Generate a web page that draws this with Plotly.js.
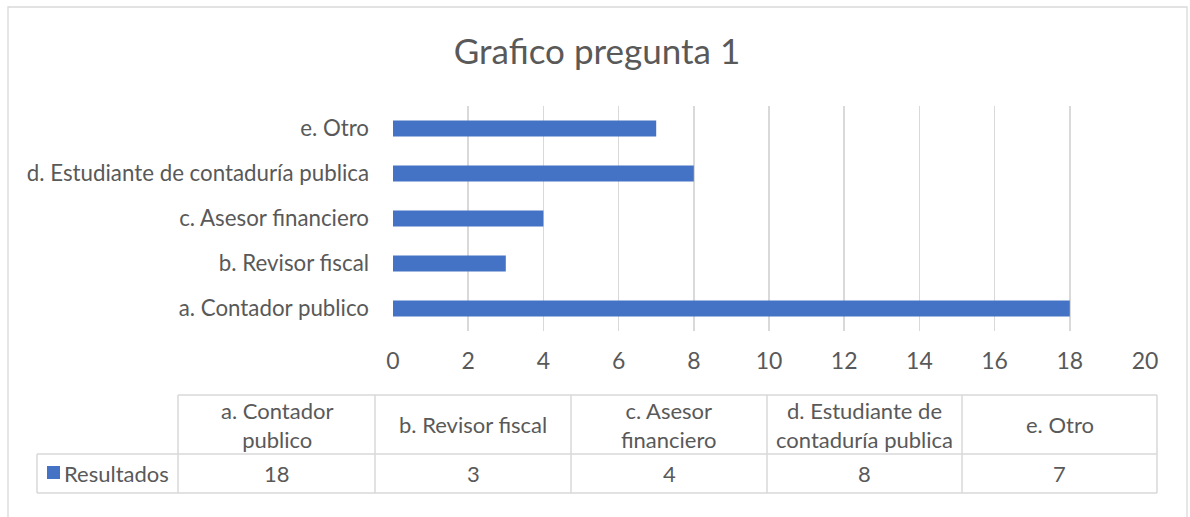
<!DOCTYPE html>
<html>
<head>
<meta charset="utf-8">
<script src="https://cdn.plot.ly/plotly-3.0.1.min.js"></script>
<style>html,body{margin:0;padding:0;background:#fff;}#chart{width:1190px;height:517px;}</style>
</head>
<body>
<div id="chart"></div>
<script>
// ---- data ----
const categories = ["a. Contador publico", "b. Revisor fiscal", "c. Asesor financiero", "d. Estudiante de contaduría publica", "e. Otro"];
const values = [18, 3, 4, 8, 7];
const seriesName = "Resultados";
const tableHeaders = ["a. Contador<br>publico", "b. Revisor fiscal", "c. Asesor<br>financiero", "d. Estudiante de<br>contaduría publica", "e. Otro"];
const xTicks = [0, 2, 4, 6, 8, 10, 12, 14, 16, 18, 20];
const chartTitle = "Grafico pregunta 1";

// ---- layout geometry (pixels) ----
const W = 1190, H = 517;
const L = 393, R = 1145, T = 106, B = 331;
const pw = R - L, ph = B - T;
const px = x => (x - L) / pw;
const py = y => (B - y) / ph;

const FONT = "Lato, 'Open Sans', sans-serif";
const TXT = "#595959";
const GRID = "#d9d9d9";
const BLUE = "#4472c4";
const FS = 22.3;

const shapes = [];
const annotations = [];

// frame
shapes.push({type: "rect", xref: "paper", yref: "paper", x0: px(8), x1: px(1187), y0: py(530), y1: py(7),
  line: {color: GRID, width: 1.3}, fillcolor: "rgba(0,0,0,0)", layer: "below"});

// data table
const colEdges = [37, 178, 375, 571, 767, 962, 1157];
const rowTop = 395, rowMid = 454, rowBot = 493;
const line = (x0, y0, x1, y1) => shapes.push({type: "line", xref: "paper", yref: "paper",
  x0: px(x0), y0: py(y0), x1: px(x1), y1: py(y1), line: {color: GRID, width: 1.5}});
line(colEdges[1], rowTop, colEdges[6], rowTop);
line(colEdges[0], rowMid, colEdges[6], rowMid);
line(colEdges[0], rowBot, colEdges[6], rowBot);
line(colEdges[0], rowMid, colEdges[0], rowBot);
for (let i = 1; i < colEdges.length; i++) line(colEdges[i], rowTop, colEdges[i], rowBot);

for (let i = 0; i < categories.length; i++) {
  const cx = (colEdges[i + 1] + colEdges[i + 2]) / 2;
  annotations.push({xref: "paper", yref: "paper", x: px(cx), y: py((rowTop + rowMid) / 2),
    text: tableHeaders[i], showarrow: false, xanchor: "center", yanchor: "middle",
    font: {family: FONT, size: 22, color: TXT}});
  annotations.push({xref: "paper", yref: "paper", x: px(cx), y: py((rowMid + rowBot) / 2),
    text: String(values[i]), showarrow: false, xanchor: "center", yanchor: "middle",
    font: {family: FONT, size: 22, color: TXT}});
}
// legend key
shapes.push({type: "rect", xref: "paper", yref: "paper", x0: px(47), x1: px(60), y0: py(479), y1: py(466),
  fillcolor: BLUE, line: {width: 0}});
annotations.push({xref: "paper", yref: "paper", x: px(62), y: py((rowMid + rowBot) / 2),
  text: seriesName, showarrow: false, xanchor: "left", yanchor: "middle",
  font: {family: FONT, size: 22, color: TXT}});

const trace = {
  type: "bar", orientation: "h", x: values, y: categories, name: seriesName,
  marker: {color: BLUE}, hoverinfo: "none"
};

const layout = {
  width: W, height: H,
  margin: {l: L, r: W - R, t: T, b: H - B, pad: 0},
  paper_bgcolor: "#fff", plot_bgcolor: "#fff",
  showlegend: false,
  bargap: 0.645,
  title: {text: chartTitle, x: 597 / W, xref: "container", xanchor: "center", y: 1 - 52 / H, yanchor: "middle",
    font: {family: FONT, size: 35, color: TXT}},
  xaxis: {range: [0, 20], tickvals: xTicks, showgrid: true, gridcolor: GRID, gridwidth: 1.5,
    zeroline: false, showline: false, ticks: "", ticklabelstandoff: 14,
    tickfont: {family: FONT, size: 23, color: TXT}, fixedrange: true},
  yaxis: {type: "category", categoryorder: "array", categoryarray: categories,
    showgrid: false, zeroline: false, showline: false, ticks: "", ticklabelstandoff: 23,
    tickfont: {family: FONT, size: FS, color: TXT}, fixedrange: true},
  shapes: shapes,
  annotations: annotations
};

Plotly.newPlot("chart", [trace], layout, {displayModeBar: false, staticPlot: true});
</script>
</body>
</html>
